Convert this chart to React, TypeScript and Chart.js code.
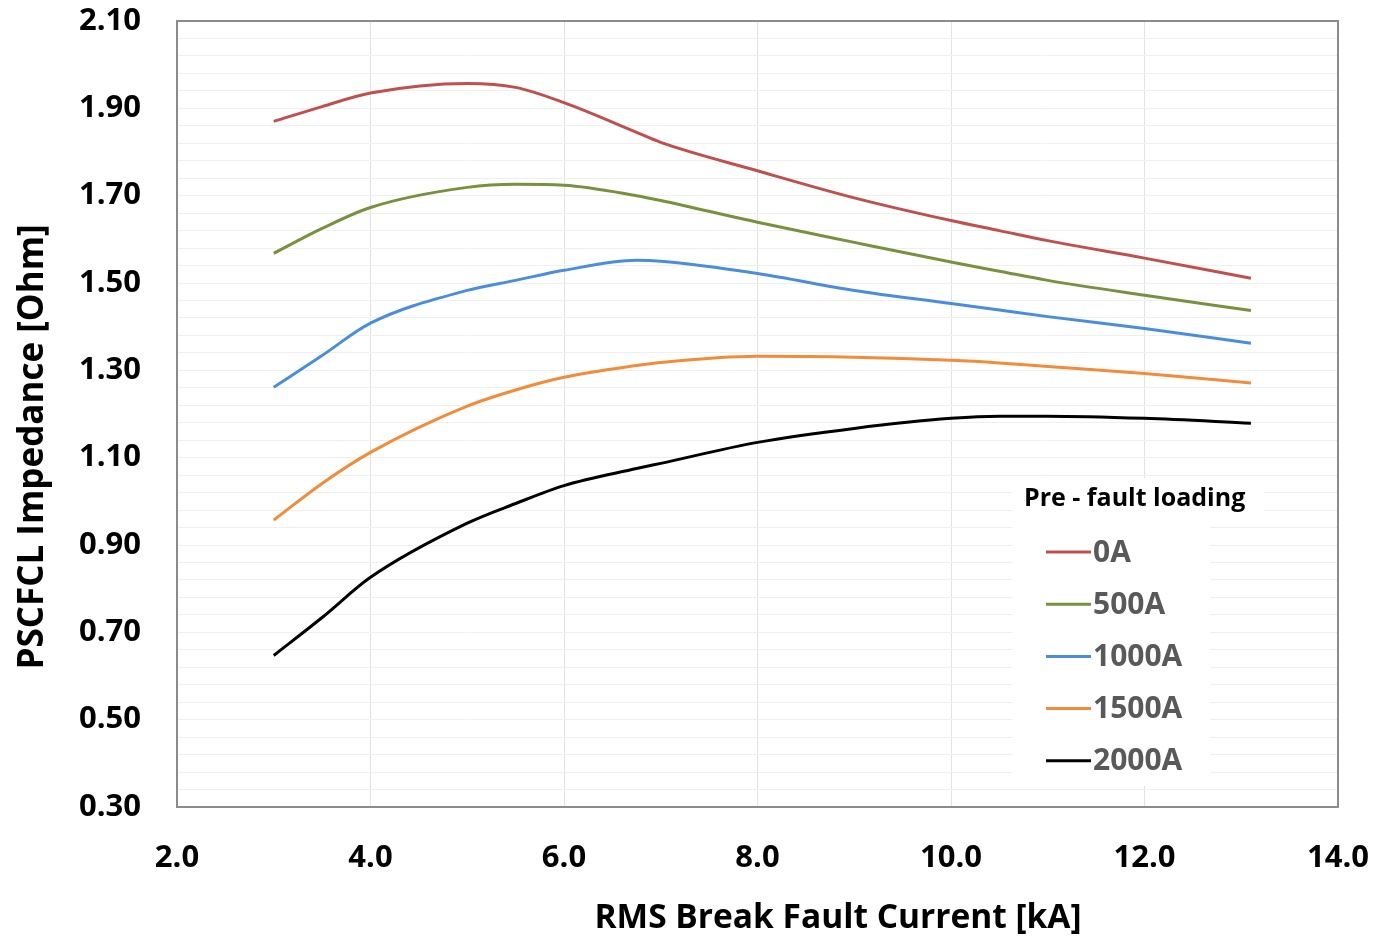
import React, { useEffect, useRef } from "react";
import { Chart, registerables } from "chart.js";

Chart.register(...registerables);

// Break fault current [kA]
const xValues = [3, 3.5, 4, 5, 5.5, 6, 6.75, 7, 8, 9, 10, 10.5, 11, 12, 13.1];

const seriesLabels = ["0A", "500A", "1000A", "1500A", "2000A"];
const seriesColors = ["#c0504d", "#76923c", "#4a8edb", "#f28c3a", "#000000"];

const load0A = [1.87, 1.904, 1.935, 1.957, 1.948, 1.913, 1.845, 1.822, 1.757, 1.695, 1.643, 1.62, 1.597, 1.557, 1.511];
const load500A = [1.568, 1.625, 1.673, 1.719, 1.726, 1.724, 1.7, 1.689, 1.639, 1.593, 1.548, 1.527, 1.506, 1.472, 1.437];
const load1000A = [1.261, 1.334, 1.408, 1.483, 1.506, 1.529, 1.552, 1.55, 1.522, 1.483, 1.453, 1.438, 1.423, 1.396, 1.362];
const load1500A = [0.957, 1.041, 1.112, 1.218, 1.255, 1.284, 1.311, 1.318, 1.332, 1.33, 1.323, 1.317, 1.309, 1.293, 1.271];
const load2000A = [0.647, 0.734, 0.826, 0.95, 0.995, 1.036, 1.075, 1.087, 1.135, 1.167, 1.19, 1.195, 1.195, 1.19, 1.179];

const seriesValues = [load0A, load500A, load1000A, load1500A, load2000A];

const yMin = 0.3;
const yMax = 2.1;
const yMinorStep = 0.04;
const xMin = 2;
const xMax = 14;
const xStep = 2;

const xTitle = "RMS Break Fault Current [kA]";
const yTitle = "PSCFCL Impedance [Ohm]";
const legendTitle = "Pre - fault loading";

const FONT = "'Open Sans', Lato, sans-serif";

const framePlugin = {
  id: "frameAndLegend",
  beforeDraw(chart: any) {
    const { ctx, width, height } = chart;
    ctx.save();
    ctx.fillStyle = "#ffffff";
    ctx.fillRect(0, 0, width, height);
    ctx.restore();
  },
  afterDraw(chart: any) {
    const { ctx, chartArea } = chart;
    ctx.save();
    // plot frame
    ctx.strokeStyle = "#8c8c8c";
    ctx.lineWidth = 2;
    ctx.strokeRect(chartArea.left, chartArea.top, chartArea.right - chartArea.left, chartArea.bottom - chartArea.top);

    // axis titles
    ctx.fillStyle = "#000000";
    ctx.textBaseline = "middle";
    ctx.textAlign = "center";
    ctx.font = `bold 33.5px ${FONT}`;
    ctx.fillText(xTitle, 838, 918);
    ctx.save();
    ctx.translate(33, 447);
    ctx.rotate(-Math.PI / 2);
    ctx.font = `bold 35px ${FONT}`;
    ctx.fillText(yTitle, 0, 0);
    ctx.restore();

    // legend
    const lx = 1024;
    const ty = 499;
    ctx.fillStyle = "#ffffff";
    ctx.fillRect(1012, 478, 252, 46);
    ctx.fillRect(1012, 524, 198, 262);
    ctx.fillStyle = "#000000";
    ctx.font = `bold 25px ${FONT}`;
    ctx.textAlign = "left";
    ctx.fillText(legendTitle, lx, ty);
    chart.data.datasets.forEach((ds: any, i: number) => {
      const y = 552 + i * 52.2;
      ctx.strokeStyle = ds.borderColor;
      ctx.lineWidth = 3;
      ctx.beginPath();
      ctx.moveTo(1046, y);
      ctx.lineTo(1091, y);
      ctx.stroke();
      ctx.fillStyle = "#595959";
      ctx.font = `bold 30px ${FONT}`;
      ctx.fillText(ds.label, 1093, y + 1);
    });
    ctx.restore();
  },
};

export default function App() {
  const canvasRef = useRef<HTMLCanvasElement | null>(null);

  useEffect(() => {
    document.body.style.margin = "0";
    const canvas = canvasRef.current;
    if (!canvas) return;
    const datasets = seriesLabels.map((label, i) => ({
      label,
      data: xValues.map((x, j) => ({ x, y: seriesValues[i][j] })),
      borderColor: seriesColors[i],
      backgroundColor: seriesColors[i],
      borderWidth: 3,
      pointRadius: 0,
      cubicInterpolationMode: "monotone" as const,
      fill: false,
    }));

    const chart = new Chart(canvas, {
      type: "line",
      data: { datasets },
      options: {
        animation: false,
        responsive: true,
        maintainAspectRatio: false,
        layout: { padding: { top: 21, right: 42, bottom: 0, left: 0 } },
        plugins: {
          legend: { display: false },
          tooltip: { enabled: false },
        },
        scales: {
          x: {
            type: "linear",
            min: xMin,
            max: xMax,
            ticks: {
              stepSize: xStep,
              color: "#000000",
              font: { family: FONT, size: 31, weight: "bold" },
              padding: 33,
              callback: (v: any) => Number(v).toFixed(1),
            },
            grid: { color: "#e2e2e2", lineWidth: 1, drawTicks: false },
            border: { display: false },
            title: { display: false },
            afterFit: (scale: any) => {
              scale.height = 132;
              scale.paddingLeft = 0;
              scale.paddingRight = 0;
            },
          },
          y: {
            type: "linear",
            min: yMin,
            max: yMax,
            afterBuildTicks: (scale: any) => {
              const n = Math.round((yMax - yMin) / yMinorStep);
              const ticks = [];
              for (let i = 0; i <= n; i++) ticks.push({ value: +(yMin + i * yMinorStep).toFixed(4) });
              scale.ticks = ticks;
            },
            ticks: {
              autoSkip: false,
              color: "#000000",
              font: { family: FONT, size: 31, weight: "bold" },
              padding: 36,
              callback: (v: any, idx: number) => (idx % 5 === 0 ? Number(v).toFixed(2) : ""),
            },
            grid: { color: "#efefef", lineWidth: 1, drawTicks: false },
            border: { display: false },
            title: { display: false },
            afterFit: (scale: any) => {
              scale.width = 177;
              scale.paddingTop = 0;
              scale.paddingBottom = 0;
            },
          },
        },
      },
      plugins: [framePlugin],
    });
    return () => chart.destroy();
  }, []);

  return (
    <div style={{ position: "absolute", left: 0, top: 0, width: 1380, height: 939, background: "#ffffff" }}>
      <canvas ref={canvasRef} />
    </div>
  );
}
